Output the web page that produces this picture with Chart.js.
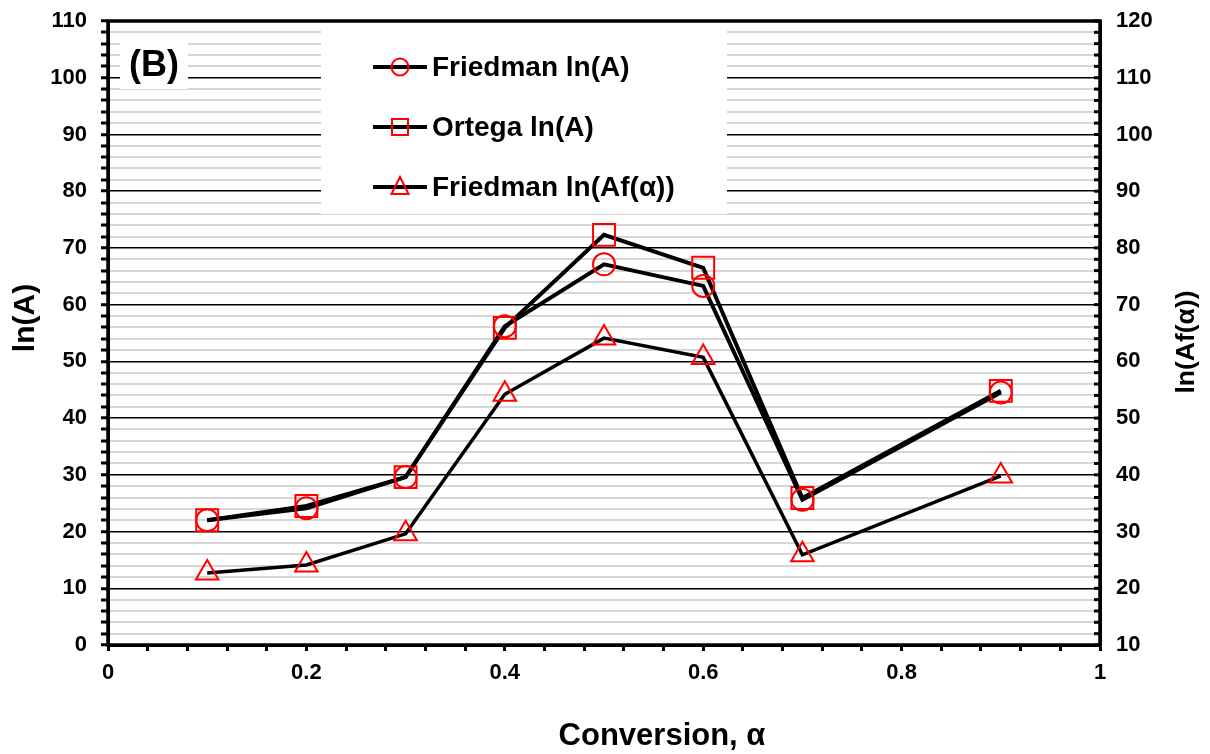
<!DOCTYPE html>
<html>
<head>
<meta charset="utf-8">
<script src="https://cdn.jsdelivr.net/npm/chart.js@4/dist/chart.umd.min.js"></script>
<style>
  html, body { margin: 0; padding: 0; background: #fff; }
  #wrap { width: 1210px; height: 754px; }
</style>
</head>
<body>
<div id="wrap"><canvas id="chart" width="1210" height="754"></canvas></div>
<script>
// conversion values (x) and the three series
const conversion = [0.1, 0.2, 0.3, 0.4, 0.5, 0.6, 0.7, 0.9];
const friedmanLnA = [22.0, 24.1, 29.6, 56.2, 67.1, 63.3, 25.6, 44.5];
const ortegaLnA = [22.0, 24.5, 29.6, 55.9, 72.3, 66.5, 25.9, 44.8];
const friedmanLnAf = [22.7, 24.1, 29.6, 54.2, 64.1, 60.7, 25.9, 39.8]; // right axis

const seriesLabels = ['Friedman ln(A)', 'Ortega ln(A)', 'Friedman ln(Af(α))'];
const FONT = '"Liberation Sans", Arial, sans-serif';

function pts(ys) {
    return conversion.map((x, i) => ({ x: x, y: ys[i] }));
}

const isMajor = (v, step) => Math.abs(v / step - Math.round(v / step)) < 1e-6;

function rotatedText(ctx, text, x, y, size) {
    ctx.save();
    ctx.translate(x, y);
    ctx.rotate(-Math.PI / 2);
    ctx.fillStyle = '#000';
    ctx.font = 'bold ' + size + 'px ' + FONT;
    ctx.textAlign = 'center';
    ctx.textBaseline = 'middle';
    ctx.fillText(text, 0, 0);
    ctx.restore();
}

// fixed axis sizes so the plot area sits where it does in the figure
function fixWidth(w) {
    return s => { s.width = w; s.paddingTop = 0; s.paddingBottom = 0; };
}

// white boxes, legend, frame and axis titles
const overlay = {
    id: 'overlay',
    beforeDatasetsDraw(chart) {
        const ctx = chart.ctx;
        ctx.save();
        ctx.fillStyle = '#fff';
        // legend box
        ctx.fillRect(321, chart.chartArea.top + 1, 406, 192);
        // (B) box
        ctx.fillRect(120, 41, 68, 48);
        ctx.fillStyle = '#000';
        ctx.font = 'bold 36px ' + FONT;
        ctx.textAlign = 'center';
        ctx.textBaseline = 'middle';
        ctx.fillText('(B)', 154, 66);

        // legend entries
        chart.data.datasets.forEach((ds, i) => {
            const y = 67 + i * 60;
            ctx.strokeStyle = '#000';
            ctx.lineWidth = 4;
            ctx.beginPath();
            ctx.moveTo(373, y);
            ctx.lineTo(427, y);
            ctx.stroke();
            ctx.strokeStyle = 'red';
            ctx.lineWidth = 2;
            ctx.beginPath();
            if (ds.pointStyle === 'circle') {
                ctx.arc(400, y, 8.5, 0, Math.PI * 2);
            } else if (ds.pointStyle === 'rect') {
                ctx.rect(392, y - 8, 16, 16);
            } else {
                ctx.moveTo(400, y - 10);
                ctx.lineTo(408.5, y + 7);
                ctx.lineTo(391.5, y + 7);
                ctx.closePath();
            }
            ctx.stroke();
            ctx.fillStyle = '#000';
            ctx.font = 'bold 28px ' + FONT;
            ctx.textAlign = 'left';
            ctx.textBaseline = 'middle';
            ctx.fillText(ds.label, 432, y + 1);
        });
        ctx.restore();
    },
    afterDraw(chart) {
        const ctx = chart.ctx;
        const a = chart.chartArea;
        ctx.save();
        // inward ticks on the right axis
        const y2 = chart.scales.y2;
        ctx.strokeStyle = '#000';
        ctx.lineWidth = 3;
        y2.ticks.forEach(t => {
            const p = y2.getPixelForValue(t.value);
            ctx.beginPath();
            ctx.moveTo(a.right - 6, p);
            ctx.lineTo(a.right, p);
            ctx.stroke();
        });
        // plot frame
        ctx.lineWidth = 3.5;
        ctx.strokeRect(a.left, a.top, a.right - a.left, a.bottom - a.top);
        // x axis title
        ctx.fillStyle = '#000';
        ctx.font = 'bold 31px ' + FONT;
        ctx.textAlign = 'center';
        ctx.textBaseline = 'middle';
        ctx.fillText('Conversion, α', 662, 736);
        ctx.restore();
        rotatedText(ctx, 'ln(A)', 26, 318, 30);
        rotatedText(ctx, 'ln(Af(α))', 1187, 342, 26.5);
    }
};

const tickFont = { family: FONT, size: 22, weight: 'bold' };

new Chart(document.getElementById('chart').getContext('2d'), {
    type: 'line',
    data: {
        datasets: [
            {
                label: seriesLabels[0],
                data: pts(friedmanLnA),
                yAxisID: 'y',
                borderColor: '#000',
                borderWidth: 4,
                pointStyle: 'circle',
                pointRadius: 11,
                pointBorderColor: 'red',
                pointBackgroundColor: 'rgba(0,0,0,0)',
                pointBorderWidth: 2,
                tension: 0
            },
            {
                label: seriesLabels[1],
                data: pts(ortegaLnA),
                yAxisID: 'y',
                borderColor: '#000',
                borderWidth: 4,
                pointStyle: 'rect',
                pointRadius: 15.5,
                pointBorderColor: 'red',
                pointBackgroundColor: 'rgba(0,0,0,0)',
                pointBorderWidth: 2,
                tension: 0
            },
            {
                label: seriesLabels[2],
                data: pts(friedmanLnAf),
                yAxisID: 'y2',
                borderColor: '#000',
                borderWidth: 3.5,
                pointStyle: 'triangle',
                pointRadius: 13,
                pointBorderColor: 'red',
                pointBackgroundColor: 'rgba(0,0,0,0)',
                pointBorderWidth: 2,
                tension: 0
            }
        ]
    },
    options: {
        responsive: false,
        maintainAspectRatio: false,
        animation: false,
        layout: { padding: { top: 21, left: 0, right: 0, bottom: 0 } },
        plugins: {
            legend: { display: false },
            tooltip: { enabled: false }
        },
        scales: {
            x: {
                type: 'linear',
                min: 0,
                max: 1,
                afterFit: s => { s.height = 109; s.paddingLeft = 0; s.paddingRight = 0; },
                ticks: {
                    stepSize: 0.04,
                    autoSkip: false,
                    maxRotation: 0,
                    padding: 9,
                    color: '#000',
                    font: tickFont,
                    callback: v => isMajor(v, 0.2) ? String(Math.round(v * 5) / 5) : ''
                },
                grid: {
                    drawOnChartArea: false,
                    tickLength: 6,
                    tickWidth: 3,
                    tickColor: '#000'
                },
                border: { color: '#000', width: 3 }
            },
            y: {
                position: 'left',
                min: 0,
                max: 110,
                afterFit: fixWidth(108),
                ticks: {
                    stepSize: 2,
                    maxTicksLimit: 100,
                    autoSkip: false,
                    padding: 14,
                    color: '#000',
                    font: tickFont,
                    callback: v => isMajor(v, 10) ? String(v) : ''
                },
                grid: {
                    color: c => isMajor(c.tick.value, 10) ? '#000' : '#d6d6d6',
                    lineWidth: c => isMajor(c.tick.value, 10) ? 1.5 : 2,
                    tickColor: '#000',
                    tickLength: 7,
                    tickWidth: 3
                },
                border: { color: '#000', width: 3 }
            },
            y2: {
                position: 'right',
                min: 10,
                max: 120,
                afterFit: fixWidth(110),
                ticks: {
                    stepSize: 2,
                    maxTicksLimit: 100,
                    autoSkip: false,
                    padding: 16,
                    color: '#000',
                    font: tickFont,
                    callback: v => isMajor(v, 10) ? String(v) : ''
                },
                grid: {
                    drawOnChartArea: false,
                    drawTicks: false
                },
                border: { color: '#000', width: 3 }
            }
        }
    },
    plugins: [overlay]
});
</script>
</body>
</html>
